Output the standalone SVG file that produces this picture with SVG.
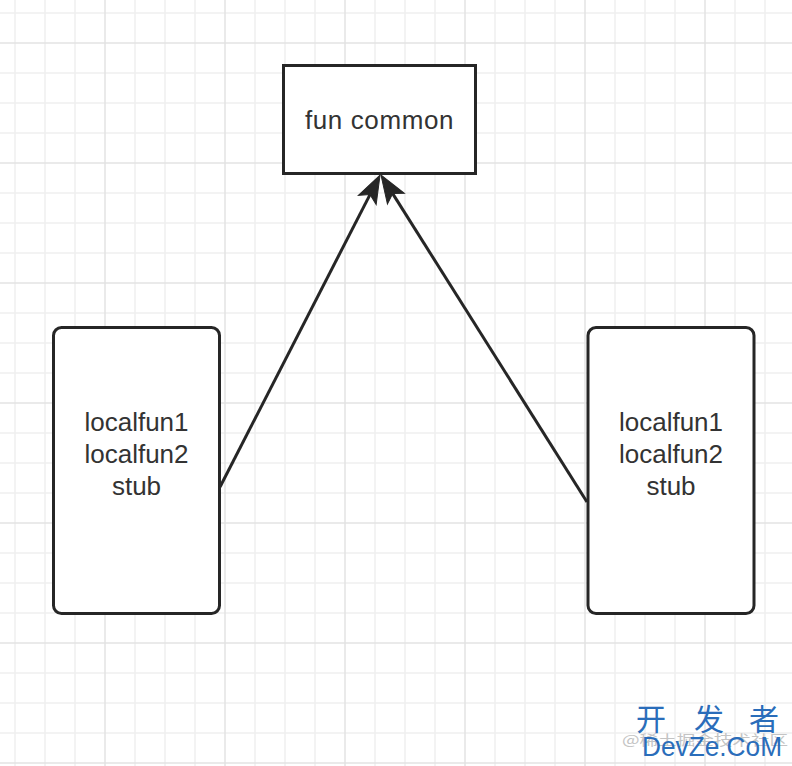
<svg xmlns="http://www.w3.org/2000/svg" width="792" height="766" viewBox="0 0 792 766">
<style>
.minor{stroke:#f0f0f0;stroke-width:1.5;fill:none}
.major{stroke:#e3e3e3;stroke-width:1.5;fill:none}
.box{fill:#ffffff;stroke:#262626;stroke-width:3}
.lbl{font-family:"Liberation Sans","Noto Sans",Arial,sans-serif;font-size:26px;fill:#333333;text-anchor:middle}
.edge{stroke:#262626;stroke-width:3;fill:none}
.wm{font-family:"Noto Sans CJK SC","Liberation Sans",sans-serif;fill:#2a6dba}
</style>
<defs>
<marker id="arrow" markerUnits="userSpaceOnUse" orient="auto" markerWidth="40" markerHeight="30" viewBox="0 -15 40 30" refX="6" refY="0" overflow="visible">
<path d="M28 0 L0 -10 L6 0 L0 10 Z" fill="#262626" stroke="#262626" stroke-width="1" stroke-linejoin="miter"/>
</marker>
</defs>
<rect width="792" height="766" fill="#ffffff"/>
<g id="grid">
<path class="minor" d="M15 0V766M45 0V766M75 0V766M135 0V766M165 0V766M195 0V766M255 0V766M285 0V766M315 0V766M375 0V766M405 0V766M435 0V766M495 0V766M525 0V766M555 0V766M615 0V766M645 0V766M675 0V766M735 0V766M765 0V766M0 13H792M0 73H792M0 103H792M0 133H792M0 193H792M0 223H792M0 253H792M0 313H792M0 343H792M0 373H792M0 433H792M0 463H792M0 493H792M0 553H792M0 583H792M0 613H792M0 673H792M0 703H792M0 733H792"/>
<path class="major" d="M105 0V766M225 0V766M345 0V766M465 0V766M585 0V766M705 0V766M0 43H792M0 163H792M0 283H792M0 403H792M0 523H792M0 643H792M0 763H792"/>
</g>
<g id="connectors">
<path class="edge" d="M220 487 L370 194.6" marker-end="url(#arrow)"/>
<path class="edge" d="M587 502 L392.7 193.6" marker-end="url(#arrow)"/>
</g>
<g id="fun-common">
<rect class="box" x="283.5" y="65.5" width="192" height="108"/>
<text class="lbl" x="379.5" y="129" letter-spacing="0.6">fun common</text>
</g>
<g id="left-module">
<rect class="box" x="53.5" y="327.5" width="166" height="286" rx="8"/>
<text class="lbl" x="136.5" y="431">localfun1</text>
<text class="lbl" x="136.5" y="463">localfun2</text>
<text class="lbl" x="136.5" y="495">stub</text>
</g>
<g id="right-module">
<rect class="box" x="588" y="327.5" width="166" height="286" rx="8"/>
<text class="lbl" x="671" y="431">localfun1</text>
<text class="lbl" x="671" y="463">localfun2</text>
<text class="lbl" x="671" y="495">stub</text>
</g>
<g id="watermark">
<text x="622" y="745" font-family="'Noto Sans CJK SC','Liberation Sans',sans-serif" font-size="14" fill="#c4c4c4" textLength="166" lengthAdjust="spacingAndGlyphs">@稀土掘金技术社区</text>
<text class="wm" x="636" y="730" font-size="30">开</text>
<text class="wm" x="694" y="730" font-size="30">发</text>
<text class="wm" x="749" y="730" font-size="30">者</text>
<text x="642" y="756" font-family="'Liberation Sans',sans-serif" font-size="28" fill="#2a6dba" textLength="140" lengthAdjust="spacingAndGlyphs">DevZe.CoM</text>
</g>
</svg>
